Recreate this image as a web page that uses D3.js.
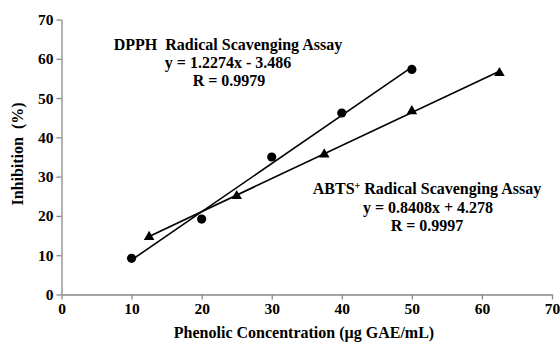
<!DOCTYPE html>
<html>
<head>
<meta charset="utf-8">
<script src="https://cdn.jsdelivr.net/npm/d3@7"></script>
<style>
  body { margin: 0; background: #fff; }
  text { font-family: "Liberation Serif", "Times New Roman", serif; font-weight: bold; fill: #000; }
</style>
</head>
<body>
<svg id="chart" width="560" height="342"></svg>
<script>
// Data
const dpphX = [10, 20, 30, 40, 50];
const dpphY = [9.2, 19.2, 35.0, 46.2, 57.3];
const abtsX = [12.5, 25, 37.5, 50, 62.5];
const abtsY = [14.8, 25.2, 35.8, 46.8, 56.5];
const dpphFit = { slope: 1.2274, intercept: -3.486 };
const abtsFit = { slope: 0.8408, intercept: 4.278 };
const xTicks = [0, 10, 20, 30, 40, 50, 60, 70];
const yTicks = [0, 10, 20, 30, 40, 50, 60, 70];

const margin = { top: 19.5, right: 8, bottom: 47.5, left: 61.5 };
const width = 560, height = 342;

const $svg = d3.select("#chart");

const x = d3.scaleLinear()
  .domain([0, 70])
  .range([margin.left, width - margin.right]);
const y = d3.scaleLinear()
  .domain([0, 70])
  .range([height - margin.bottom, margin.top]);

// Axes
const $xAxis = $svg.append("g")
  .attr("transform", `translate(0,${height - margin.bottom})`)
  .call(d3.axisBottom(x).tickValues(xTicks).tickSize(5).tickSizeOuter(0));
const $yAxis = $svg.append("g")
  .attr("transform", `translate(${margin.left},0)`)
  .call(d3.axisLeft(y).tickValues(yTicks).tickSize(5).tickSizeOuter(0));

[$xAxis, $yAxis].forEach($a => {
  $a.select(".domain").attr("stroke", "#888").attr("stroke-width", 1.3);
  $a.selectAll(".tick line").attr("stroke", "#888").attr("stroke-width", 1.3);
  $a.selectAll(".tick text")
    .attr("font-size", 15.5)
    .attr("font-family", "Liberation Serif")
    .attr("font-weight", "bold")
    .attr("fill", "#000");
});
$xAxis.selectAll(".tick text").attr("dy", "0.71em").attr("y", 8);
$yAxis.selectAll(".tick text").attr("x", -8);

// Trend lines
const fits = [
  { fit: dpphFit, xs: dpphX },
  { fit: abtsFit, xs: abtsX },
];
fits.forEach(({ fit, xs }) => {
  const ends = d3.extent(xs);
  $svg.append("line")
    .attr("x1", x(ends[0]))
    .attr("y1", y(fit.slope * ends[0] + fit.intercept))
    .attr("x2", x(ends[1]))
    .attr("y2", y(fit.slope * ends[1] + fit.intercept))
    .attr("stroke", "#000")
    .attr("stroke-width", 1.6);
});

// Markers
$svg.append("g")
  .selectAll("circle")
  .data(dpphX.map((d, i) => [d, dpphY[i]]))
  .join("circle")
    .attr("cx", d => x(d[0]))
    .attr("cy", d => y(d[1]))
    .attr("r", 4.6)
    .attr("fill", "#000");

const tri = d3.symbol().type(d3.symbolTriangle).size(48);
$svg.append("g")
  .selectAll("path")
  .data(abtsX.map((d, i) => [d, abtsY[i]]))
  .join("path")
    .attr("d", tri)
    .attr("transform", d => `translate(${x(d[0])},${y(d[1]) + 0.5})`)
    .attr("fill", "#000");

// Annotations
const $dpph = $svg.append("g").attr("text-anchor", "middle").attr("font-size", 16);
$dpph.append("text").attr("x", 228).attr("y", 50).attr("xml:space", "preserve")
  .text("DPPH  Radical Scavenging Assay");
$dpph.append("text").attr("x", 228).attr("y", 68).text("y = 1.2274x - 3.486");
$dpph.append("text").attr("x", 229).attr("y", 86).text("R = 0.9979");

const $abts = $svg.append("g").attr("text-anchor", "middle").attr("font-size", 16);
const $abtsTitle = $abts.append("text").attr("x", 427).attr("y", 194);
$abtsTitle.append("tspan").text("ABTS");
$abtsTitle.append("tspan").attr("font-size", 10).attr("dy", -5).text("+");
$abtsTitle.append("tspan").attr("dy", 5).text(" Radical Scavenging Assay");
$abts.append("text").attr("x", 428).attr("y", 213).text("y = 0.8408x + 4.278");
$abts.append("text").attr("x", 427).attr("y", 231).text("R = 0.9997");

// Axis titles
$svg.append("text")
  .attr("x", 304).attr("y", 338)
  .attr("text-anchor", "middle")
  .attr("font-size", 16)
  .text("Phenolic Concentration (µg GAE/mL)");
$svg.append("text")
  .attr("transform", "translate(23,154) rotate(-90)")
  .attr("text-anchor", "middle")
  .attr("font-size", 16)
  .attr("xml:space", "preserve")
  .text("Inhibition  (%)");
</script>
</body>
</html>
